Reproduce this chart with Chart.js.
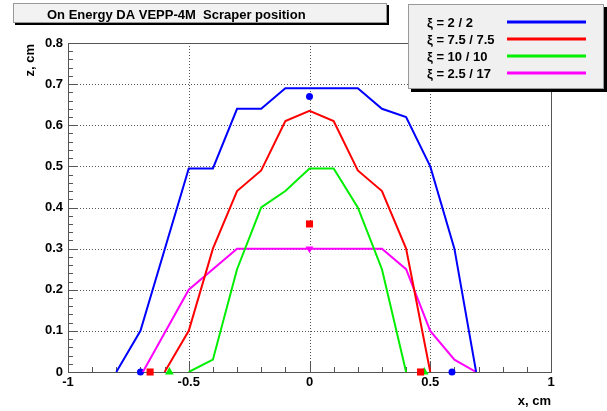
<!DOCTYPE html>
<html><head><meta charset="utf-8">
<script src="https://cdn.jsdelivr.net/npm/chart.js@4"></script>
<style>html,body{margin:0;padding:0;background:#fff;}canvas{display:block;}</style>
</head><body>
<canvas id="c" width="607" height="411"></canvas>
<script>
const titleText = 'On Energy DA VEPP-4M  Scraper position';
const xAxisTitle = 'x, cm';
const yAxisTitle = 'z, cm';
const seriesNames = ['\u03BE = 2 / 2', '\u03BE = 7.5 / 7.5', '\u03BE = 10 / 10', '\u03BE = 2.5 / 17'];
const seriesColors = ['#0000ff', '#ff0000', '#00ee00', '#ff00ff'];

const xTicks = [-1, -0.5, 0, 0.5, 1];
const xTickLabels = ['-1', '-0.5', '0', '0.5', '1'];
const yTicks = [0, 0.1, 0.2, 0.3, 0.4, 0.5, 0.6, 0.7, 0.8];
const yTickLabels = ['0', '0.1', '0.2', '0.3', '0.4', '0.5', '0.6', '0.7', '0.8'];

// xi = 2 / 2
const xBlue = [-0.8, -0.7, -0.5, -0.4, -0.3, -0.2, -0.1, 0, 0.1, 0.2, 0.3, 0.4, 0.5, 0.6, 0.69];
const zBlue = [0, 0.1, 0.495, 0.495, 0.64, 0.64, 0.69, 0.69, 0.69, 0.69, 0.64, 0.62, 0.5, 0.3, 0];
// xi = 7.5 / 7.5
const xRed = [-0.6, -0.5, -0.4, -0.3, -0.2, -0.1, 0, 0.1, 0.2, 0.3, 0.4, 0.5];
const zRed = [0, 0.1, 0.3, 0.44, 0.49, 0.61, 0.635, 0.61, 0.49, 0.44, 0.3, 0];
// xi = 10 / 10
const xGreen = [-0.5, -0.4, -0.3, -0.2, -0.1, 0, 0.1, 0.2, 0.3, 0.4];
const zGreen = [0, 0.03, 0.25, 0.4, 0.44, 0.495, 0.495, 0.4, 0.25, 0];
// xi = 2.5 / 17
const xMagenta = [-0.69, -0.5, -0.3, -0.2, -0.1, 0, 0.1, 0.2, 0.3, 0.4, 0.5, 0.6, 0.69];
const zMagenta = [0, 0.2, 0.3, 0.3, 0.3, 0.3, 0.3, 0.3, 0.3, 0.25, 0.1, 0.03, 0];

// scraper position markers
const xMarkBlue = [-0.7, 0.59, 0];
const zMarkBlue = [0, 0, 0.67];
const xMarkRed = [-0.66, 0.46, 0];
const zMarkRed = [0, 0, 0.36];
const xMarkGreen = [-0.58, 0.475];
const zMarkGreen = [0, 0];
const xMarkMagenta = [0];
const zMarkMagenta = [0.3];

const pts = (xs, zs) => xs.map((x, i) => ({x: x, y: zs[i]}));
const FONT = '"Liberation Sans", Arial, Helvetica, sans-serif';

function lineDs(name, xs, zs, color) {
  return {label: name, data: pts(xs, zs), showLine: true, borderColor: color, backgroundColor: color,
    borderWidth: 2, pointRadius: 0, pointHoverRadius: 0, tension: 0, fill: false};
}
function markDs(xs, zs, color, style, r, rot) {
  return {label: '', data: pts(xs, zs), showLine: false, pointStyle: style, pointRadius: r,
    pointRotation: rot || 0, backgroundColor: color, borderColor: color, borderWidth: 0, clip: false};
}

const framePlugin = {
  id: 'frame',
  beforeDatasetsDraw(chart) {
    const ctx = chart.ctx, a = chart.chartArea;
    const xs = chart.scales.x, ys = chart.scales.y;
    ctx.save();
    ctx.strokeStyle = '#555';
    ctx.lineWidth = 1;
    ctx.setLineDash([1, 2]);
    xTicks.forEach(v => {
      if (v <= -1 || v >= 1) return;
      const px = Math.round(xs.getPixelForValue(v)) + 0.5;
      ctx.beginPath(); ctx.moveTo(px, a.top); ctx.lineTo(px, a.bottom); ctx.stroke();
    });
    yTicks.forEach(v => {
      if (v <= 0 || v >= 0.8) return;
      const py = Math.round(ys.getPixelForValue(v)) + 0.5;
      ctx.beginPath(); ctx.moveTo(a.left, py); ctx.lineTo(a.right, py); ctx.stroke();
    });
    ctx.setLineDash([]);
    ctx.strokeStyle = '#555';
    ctx.strokeRect(Math.round(a.left) + 0.5, Math.round(a.top) + 0.5,
      Math.round(a.right - a.left), Math.round(a.bottom - a.top));
    ctx.beginPath();
    for (let i = 0; i <= 20; i++) {
      const v = -1 + i * 0.1;
      const px = Math.round(xs.getPixelForValue(v)) + 0.5;
      const len = (i % 5 === 0) ? 10 : 5;
      ctx.moveTo(px, a.bottom); ctx.lineTo(px, a.bottom - len);
    }
    for (let i = 0; i <= 40; i++) {
      const v = i * 0.02;
      const py = Math.round(ys.getPixelForValue(v)) + 0.5;
      const len = (i % 5 === 0) ? 10 : 5;
      ctx.moveTo(a.left, py); ctx.lineTo(a.left + len, py);
    }
    ctx.stroke();
    ctx.restore();
  },
  afterDraw(chart) {
    const ctx = chart.ctx, a = chart.chartArea;
    ctx.save();
    // title box
    ctx.fillStyle = '#000';
    ctx.fillRect(15, 5, 374, 20);
    ctx.fillStyle = '#f2f2f2';
    ctx.fillRect(13, 3, 374, 20);
    ctx.strokeStyle = '#999';
    ctx.lineWidth = 1;
    ctx.strokeRect(13.5, 3.5, 373, 19);
    ctx.fillStyle = '#000';
    ctx.font = 'bold 13px ' + FONT;
    ctx.textBaseline = 'alphabetic';
    ctx.textAlign = 'left';
    ctx.fillText(titleText, 47, 19);
    // legend box
    ctx.fillStyle = '#000';
    ctx.fillRect(411, 7, 196, 85);
    ctx.fillStyle = '#f0f0f0';
    ctx.fillRect(408, 4, 196, 85);
    ctx.strokeStyle = '#999';
    ctx.strokeRect(408.5, 4.5, 195, 84);
    const rows = [22, 39, 56, 73];
    ctx.font = 'bold 13px ' + FONT;
    ctx.textBaseline = 'middle';
    seriesNames.forEach((n, i) => {
      ctx.fillStyle = '#000';
      ctx.fillText(n, 427, rows[i] + 1);
      ctx.strokeStyle = seriesColors[i];
      ctx.lineWidth = 3;
      ctx.beginPath(); ctx.moveTo(507, rows[i]); ctx.lineTo(586, rows[i]); ctx.stroke();
    });
    // axis titles
    ctx.fillStyle = '#000';
    ctx.font = 'bold 13px ' + FONT;
    ctx.textAlign = 'right';
    ctx.textBaseline = 'middle';
    ctx.fillText(xAxisTitle, a.right, 401);
    ctx.translate(30, 44);
    ctx.rotate(-Math.PI / 2);
    ctx.fillText(yAxisTitle, 0, 0);
    ctx.restore();
  }
};

new Chart(document.getElementById('c'), {
  type: 'scatter',
  data: {
    datasets: [
      lineDs(seriesNames[0], xBlue, zBlue, seriesColors[0]),
      lineDs(seriesNames[1], xRed, zRed, seriesColors[1]),
      lineDs(seriesNames[2], xGreen, zGreen, seriesColors[2]),
      lineDs(seriesNames[3], xMagenta, zMagenta, seriesColors[3]),
      markDs(xMarkBlue, zMarkBlue, seriesColors[0], 'circle', 3.5),
      markDs(xMarkRed, zMarkRed, seriesColors[1], 'rect', 5),
      markDs(xMarkGreen, zMarkGreen, seriesColors[2], 'triangle', 5),
      markDs(xMarkMagenta, zMarkMagenta, seriesColors[3], 'triangle', 4.5, 180)
    ]
  },
  options: {
    responsive: false,
    animation: false,
    devicePixelRatio: 1,
    layout: {padding: {top: 43, right: 56, left: 0, bottom: 0}},
    plugins: {legend: {display: false}, title: {display: false}, tooltip: {enabled: false}},
    events: [],
    scales: {
      x: {
        type: 'linear', min: -1, max: 1,
        afterBuildTicks: s => { s.ticks = xTicks.map(v => ({value: v})); },
        afterFit: s => { s.height = 39; },
        grid: {display: false, drawTicks: false},
        border: {display: false},
        ticks: {
          autoSkip: false, maxRotation: 0, padding: 3, color: '#000',
          font: {family: FONT, weight: 'bold', size: 13},
          callback: v => xTickLabels[xTicks.indexOf(v)]
        }
      },
      y: {
        type: 'linear', min: 0, max: 0.8,
        afterBuildTicks: s => { s.ticks = yTicks.map(v => ({value: v})); },
        afterFit: s => { s.width = 68; },
        grid: {display: false, drawTicks: false},
        border: {display: false},
        ticks: {
          autoSkip: false, padding: 5, color: '#000',
          font: {family: FONT, weight: 'bold', size: 13},
          callback: v => yTickLabels[yTicks.indexOf(v)]
        }
      }
    }
  },
  plugins: [framePlugin]
});
</script>
</body></html>
